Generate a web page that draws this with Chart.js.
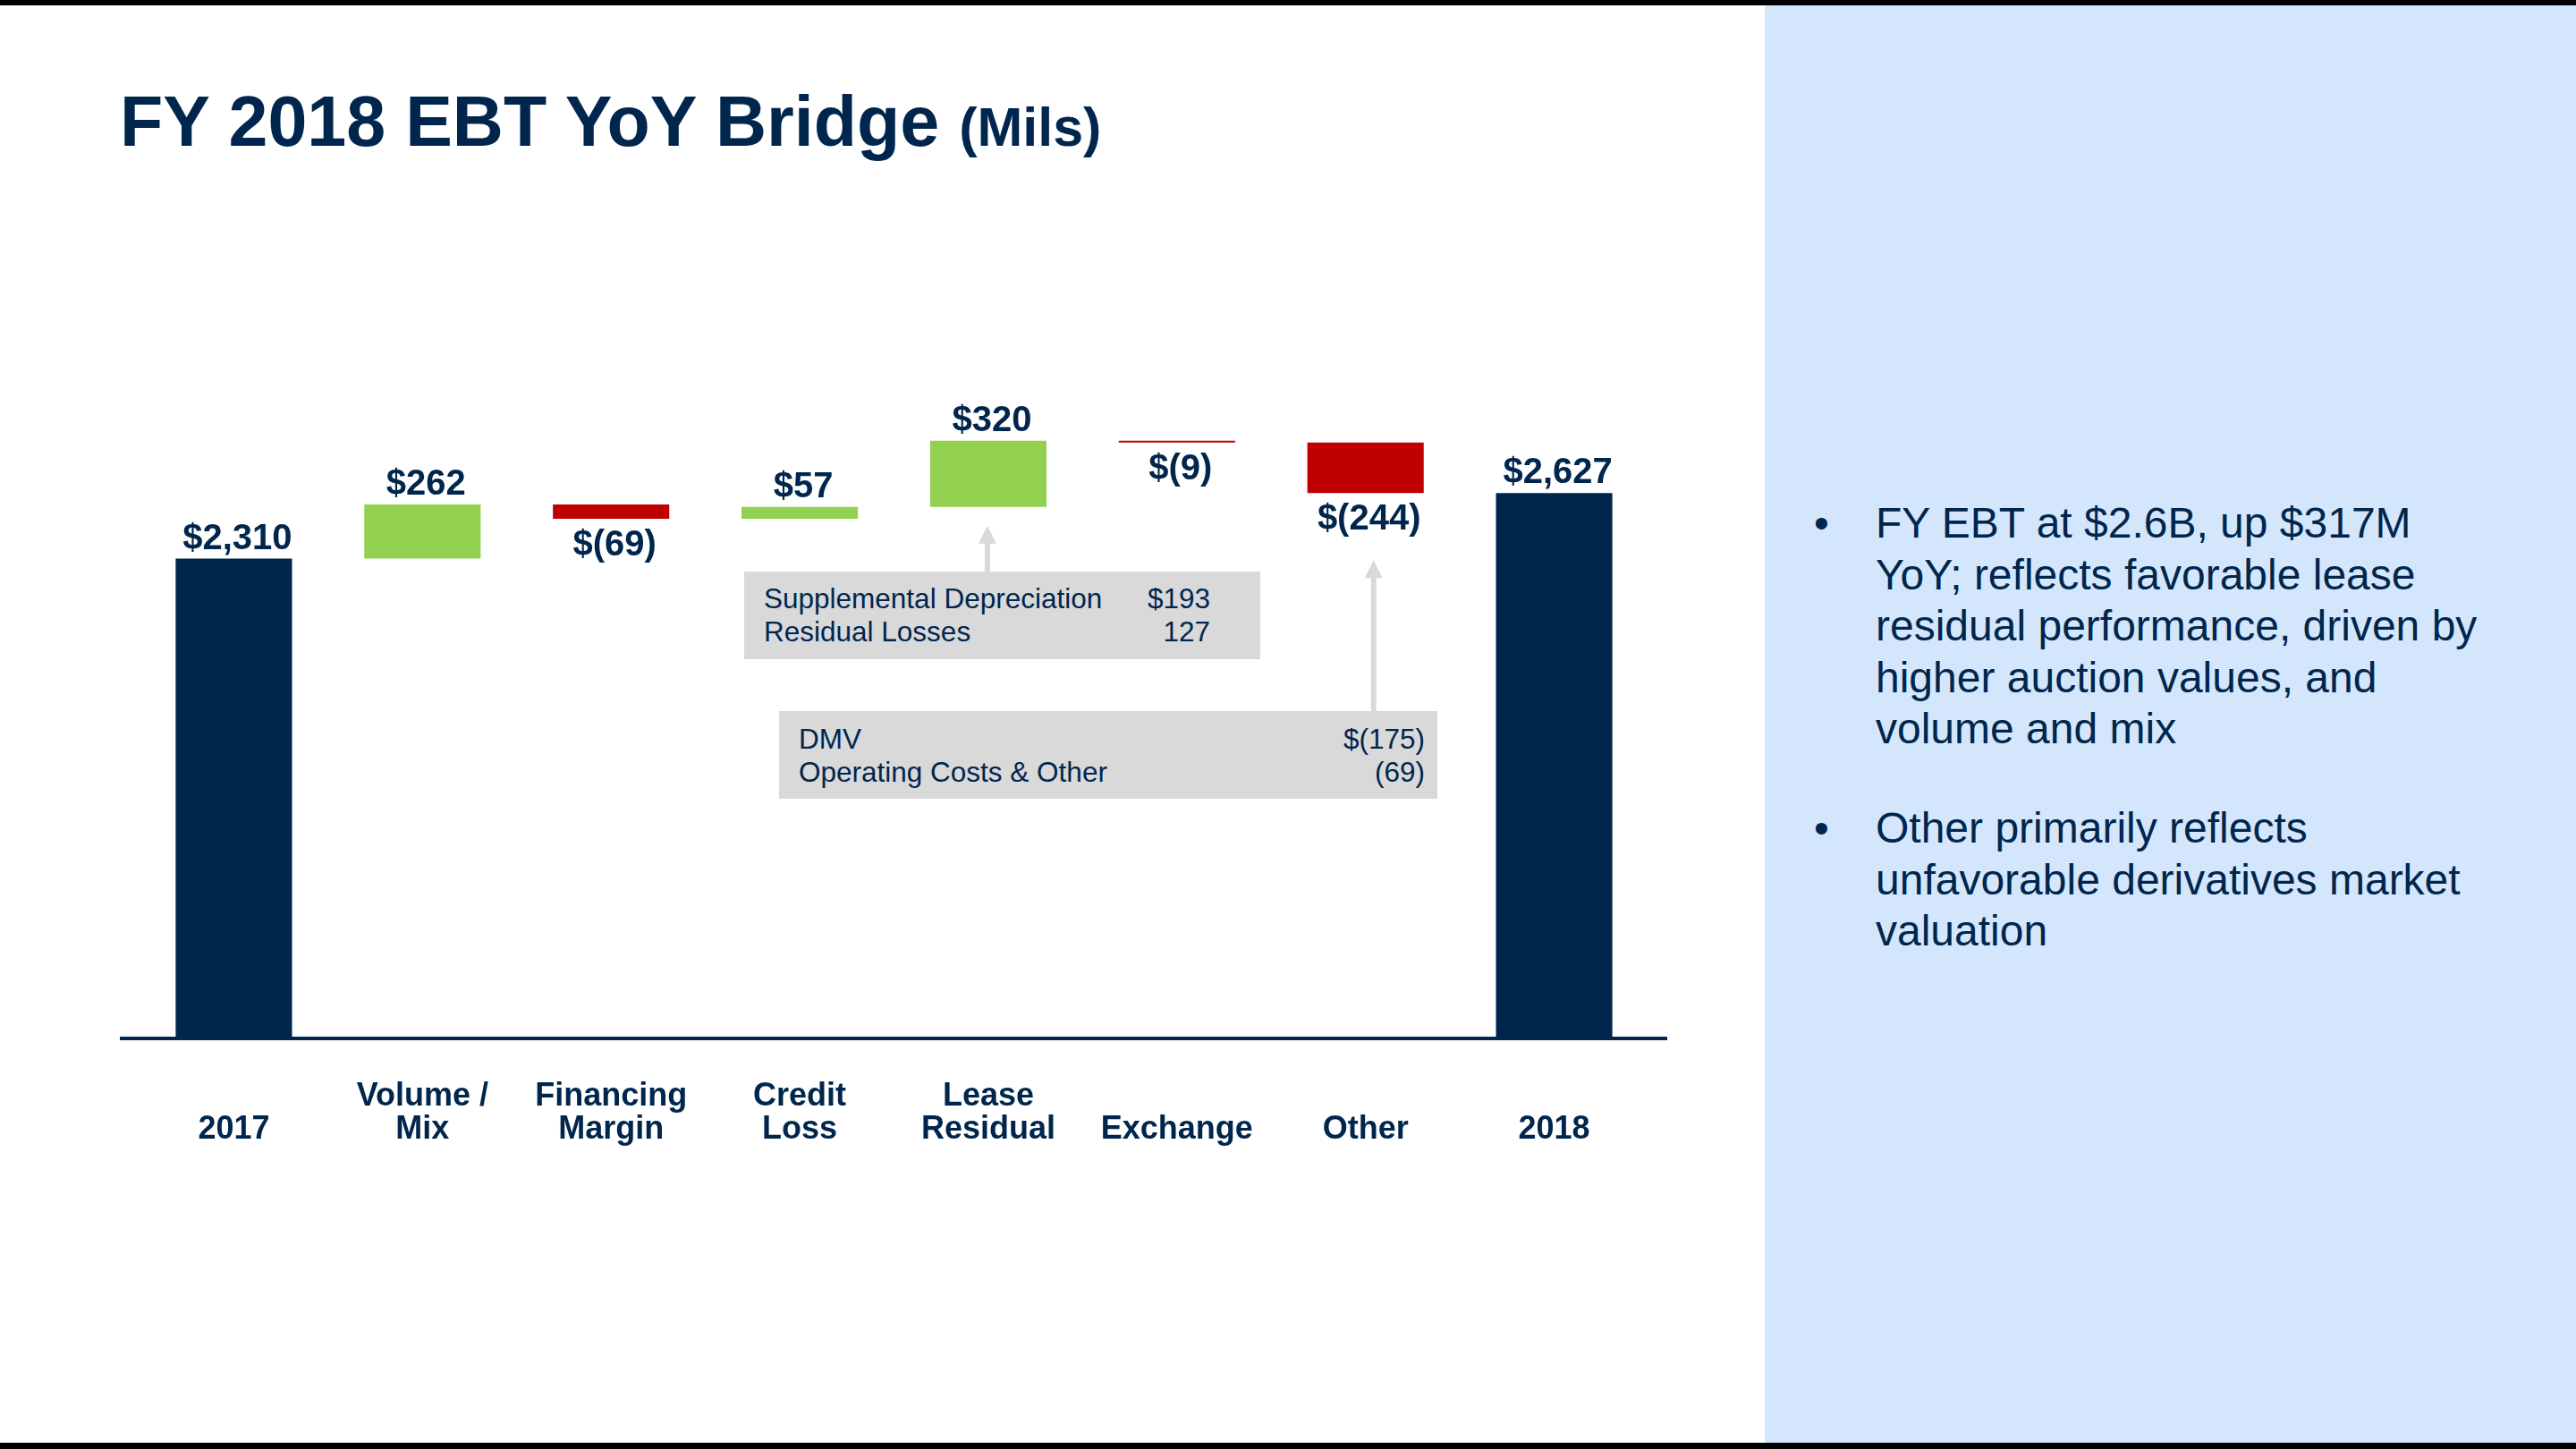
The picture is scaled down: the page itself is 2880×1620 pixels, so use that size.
<!DOCTYPE html>
<html><head><meta charset="utf-8">
<script src="https://cdn.jsdelivr.net/npm/chart.js@4.4.1/dist/chart.umd.min.js"></script>
<style>
html,body{margin:0;padding:0;width:2880px;height:1620px;overflow:hidden;background:#fff;font-family:"Liberation Sans",Arial,sans-serif;}
#topbar{position:absolute;left:0;top:0;width:2880px;height:6px;background:#000;}
#botbar{position:absolute;left:0;top:1613px;width:2880px;height:7px;background:#000;}
#panel{position:absolute;left:1973px;top:6px;width:907px;height:1607px;background:#D4E6FC;}
#title{position:absolute;left:134px;top:96px;font-size:79px;font-weight:bold;line-height:79px;color:#00264D;white-space:nowrap;}
#title span{font-size:61px;}
#chartwrap{position:absolute;left:0;top:0;width:1973px;height:1620px;}
.box{position:absolute;background:#D9D9D9;color:#00264D;font-size:31.5px;line-height:37px;box-sizing:border-box;}
.row{display:flex;justify-content:space-between;white-space:nowrap;}
.para{position:absolute;left:2097px;font-size:48px;line-height:57.5px;color:#00264D;white-space:nowrap;}
.bul{position:absolute;left:-69px;top:0;}
</style></head>
<body>
<div id="topbar"></div>
<div id="panel"></div>
<div id="botbar"></div>
<div id="title">FY 2018 EBT YoY Bridge <span>(Mils)</span></div>
<div id="chartwrap"><canvas id="c" width="1973" height="1620" style="width:1973px;height:1620px"></canvas></div>
<div class="box" style="left:832px;top:639px;width:577px;height:98px;padding:12px 56px 0 22px;">
  <div class="row"><span>Supplemental Depreciation</span><span>$193</span></div>
  <div class="row"><span>Residual Losses</span><span>127</span></div>
</div>
<div class="box" style="left:871px;top:795px;width:736px;height:98px;padding:13px 14px 0 22px;">
  <div class="row"><span>DMV</span><span>$(175)</span></div>
  <div class="row"><span>Operating Costs &amp; Other</span><span>(69)</span></div>
</div>
<div class="para" style="top:556px;"><span class="bul">•</span>FY EBT at $2.6B, up $317M<br>YoY; reflects favorable lease<br>residual performance, driven by<br>higher auction values, and<br>volume and mix</div>
<div class="para" style="top:897px;"><span class="bul">•</span>Other primarily reflects<br>unfavorable derivatives market<br>valuation</div>
<script>
const categories = [["2017"], ["Volume /","Mix"], ["Financing","Margin"], ["Credit","Loss"], ["Lease","Residual"], ["Exchange"], ["Other"], ["2018"]];
const barTypes = ["total","delta","delta","delta","delta","delta","delta","total"];
const values = [2310, 262, -69, 57, 320, -9, -244, 2627];
const valueLabels = ["$2,310","$262","$(69)","$57","$320","$(9)","$(244)","$2,627"];
const yMin = 0, yMax = 3000;

const NAVY = "#00264D", GREEN = "#92D050", RED = "#C00000", GREY = "#D9D9D9";

// floating ranges built from the values
const ranges = [];
let run = 0;
values.forEach((v, i) => {
  if (barTypes[i] === "total") { ranges.push([0, v]); run = v; }
  else { ranges.push([run, run + v]); run += v; }
});
const colors = values.map((v, i) => barTypes[i] === "total" ? NAVY : (v >= 0 ? GREEN : RED));

const overlay = {
  id: "overlay",
  afterDatasetsDraw(chart) {
    const ctx = chart.ctx, ys = chart.scales.y, meta = chart.getDatasetMeta(0);
    const area = chart.chartArea;
    ctx.save();
    // axis line
    const y0 = ys.getPixelForValue(0);
    ctx.fillStyle = NAVY;
    ctx.fillRect(area.left - 22, y0, area.right - area.left + 43, 4);
    // value labels
    ctx.font = "bold 40px 'Liberation Sans', Arial, sans-serif";
    ctx.textAlign = "center";
    ctx.textBaseline = "alphabetic";
    meta.data.forEach((el, i) => {
      const r = ranges[i];
      const top = ys.getPixelForValue(Math.max(r[0], r[1]));
      const bot = ys.getPixelForValue(Math.min(r[0], r[1]));
      const y = (barTypes[i] === "total" || values[i] >= 0) ? top - 11 : bot + 41;
      ctx.fillText(valueLabels[i], el.x + 4, y);
    });
    // callout arrows
    const arrow = (x, yTip, yBase) => {
      ctx.strokeStyle = GREY; ctx.fillStyle = GREY; ctx.lineWidth = 6;
      ctx.beginPath(); ctx.moveTo(x, yBase); ctx.lineTo(x, yTip + 18); ctx.stroke();
      ctx.beginPath(); ctx.moveTo(x, yTip); ctx.lineTo(x - 10, yTip + 20); ctx.lineTo(x + 10, yTip + 20); ctx.closePath(); ctx.fill();
    };
    const lr = meta.data[4], ot = meta.data[6];
    arrow(lr.x - 1, ys.getPixelForValue(Math.min(...ranges[4])) + 21, 639);
    arrow(ot.x + 9, ys.getPixelForValue(Math.min(...ranges[6])) + 75, 795);
    ctx.restore();
  }
};

new Chart(document.getElementById("c"), {
  type: "bar",
  data: {
    labels: categories,
    datasets: [{ data: ranges, backgroundColor: colors, borderWidth: 0, categoryPercentage: 1.0, barPercentage: 0.617, grouped: false }]
  },
  options: {
    responsive: false,
    devicePixelRatio: 1,
    animation: false,
    layout: { padding: { left: 156, right: 130, top: 465, bottom: 331 } },
    plugins: { legend: { display: false }, tooltip: { enabled: false }, title: { display: false } },
    scales: {
      x: {
        grid: { display: false, drawTicks: false },
        border: { display: false },
        ticks: {
          color: NAVY, padding: 67, maxRotation: 0, minRotation: 0, autoSkip: false, crossAlign: "far",
          font: { family: "'Liberation Sans', Arial, sans-serif", size: 36, weight: "bold", lineHeight: 1.03 }
        },
        afterFit(scale) { scale.height = 130; }
      },
      y: { display: false, min: yMin, max: yMax }
    }
  },
  plugins: [overlay]
});
</script>
</body></html>
